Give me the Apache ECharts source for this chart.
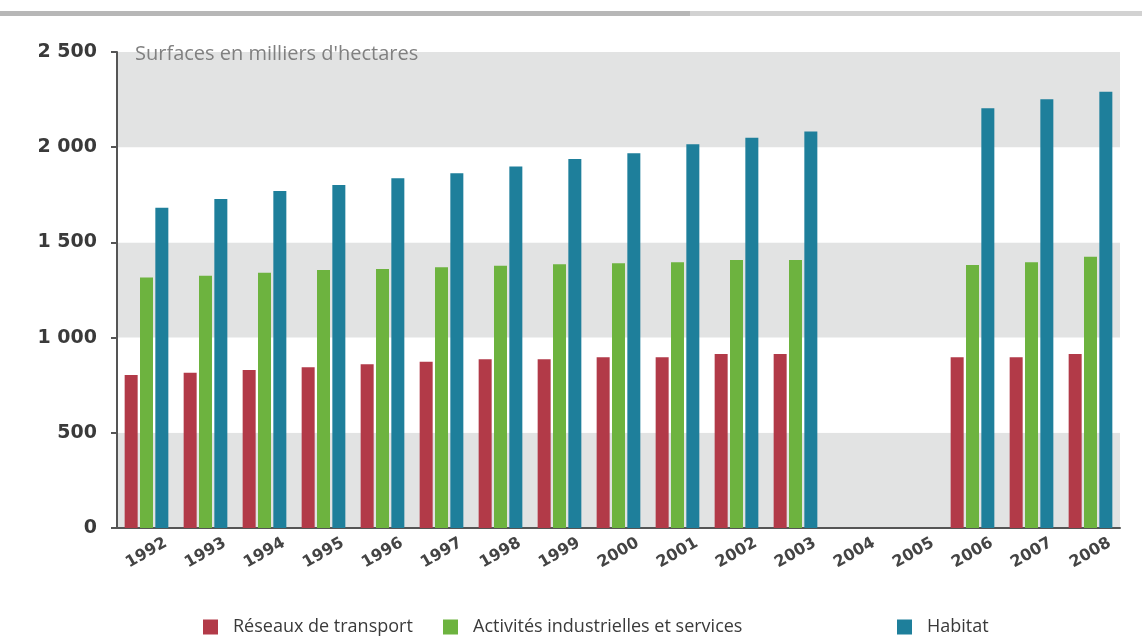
<!DOCTYPE html>
<html>
<head>
<meta charset="utf-8">
<script src="https://cdn.jsdelivr.net/npm/echarts@6/dist/echarts.min.js"></script>
<style>
html, body { margin: 0; padding: 0; background: #fff; }
#main { width: 1142px; height: 639px; }
</style>
</head>
<body>
<div id="main"></div>
<script>
var years = ['1992', '1993', '1994', '1995', '1996', '1997', '1998', '1999', '2000',
	'2001', '2002', '2003', '2004', '2005', '2006', '2007', '2008'];
// surfaces en milliers d'hectares (2004 et 2005 : pas de donnees)
var transport = [803, 816, 830, 844, 860, 873, 886, 886, 897, 897, 914, 914, null, null, 897, 897, 914];
var industrie = [1315, 1325, 1341, 1355, 1360, 1369, 1378, 1385, 1390, 1396, 1408, 1408, null, null, 1381, 1396, 1425];
var habitat = [1682, 1728, 1770, 1801, 1837, 1863, 1898, 1938, 1968, 2015, 2050, 2082, null, null, 2204, 2252, 2291];
var seriesNames = ['Réseaux de transport', 'Activités industrielles et services', 'Habitat'];
var colors = ['#b23a48', '#6db33f', '#1e7f9b'];

function fmt(v) {
	if (v < 1000) return String(v);
	var r = v % 1000;
	return Math.floor(v / 1000) + ' ' + (r < 10 ? '00' : r < 100 ? '0' : '') + r;
}

var dom = document.getElementById('main');
var myChart = echarts.init(dom, null, { renderer: 'canvas' });

var font = "'Open Sans', sans-serif";
var boldFont = "'DejaVu Sans', sans-serif";
var legendBase = {
	top: 613,
	itemWidth: 15,
	itemHeight: 15,
	icon: 'rect',
	textStyle: { fontSize: 18, color: '#3a3a3a', fontFamily: font, padding: [0, 0, 0, 10] }
};

var option = {
	animation: false,
	color: colors,
	textStyle: { fontFamily: font },
	title: {
		text: "Surfaces en milliers d'hectares",
		left: 130,
		top: 39,
		textStyle: { fontSize: 20, fontWeight: 'normal', color: '#808080', fontFamily: font }
	},
	graphic: [
		{ type: 'rect', shape: { x: 0, y: 11, width: 690, height: 5 }, style: { fill: '#b7b7b7' } },
		{ type: 'rect', shape: { x: 690, y: 11, width: 452, height: 5 }, style: { fill: '#d2d2d2' } }
	],
	legend: [
		Object.assign({ left: 198, data: [seriesNames[0]] }, legendBase),
		Object.assign({ left: 438, data: [seriesNames[1]] }, legendBase),
		Object.assign({ left: 892, data: [seriesNames[2]] }, legendBase)
	],
	grid: {
		left: 117,
		right: 22,
		top: 52,
		bottom: 111
	},
	xAxis: {
		type: 'category',
		data: years,
		axisLine: { lineStyle: { color: '#555', width: 2 } },
		axisTick: { length: 5, lineStyle: { color: '#555', width: 2 } },
		axisLabel: {
			interval: 0,
			rotate: 30,
			align: 'center',
			verticalAlign: 'middle',
			margin: 25,
			fontSize: 16,
			fontWeight: 'bold',
			fontFamily: boldFont,
			color: '#444'
		}
	},
	yAxis: {
		type: 'value',
		min: 0,
		max: 2500,
		interval: 500,
		axisLine: { show: true, lineStyle: { color: '#555', width: 2 } },
		axisTick: { show: true, length: 6, lineStyle: { color: '#555', width: 2 } },
		axisLabel: {
			formatter: fmt,
			margin: 20,
			fontSize: 19,
			fontWeight: 'bold',
			fontFamily: boldFont,
			color: '#3a3a3a'
		},
		splitLine: { show: false },
		splitArea: {
			show: true,
			areaStyle: { color: ['#e2e3e3', '#ffffff'] }
		}
	},
	series: [
		{ name: seriesNames[0], type: 'bar', data: transport, barWidth: 13, barGap: '18%' },
		{ name: seriesNames[1], type: 'bar', data: industrie, barWidth: 13, barGap: '18%' },
		{ name: seriesNames[2], type: 'bar', data: habitat, barWidth: 13, barGap: '18%' }
	]
};

myChart.setOption(option);
window.addEventListener('resize', myChart.resize);
</script>
</body>
</html>
